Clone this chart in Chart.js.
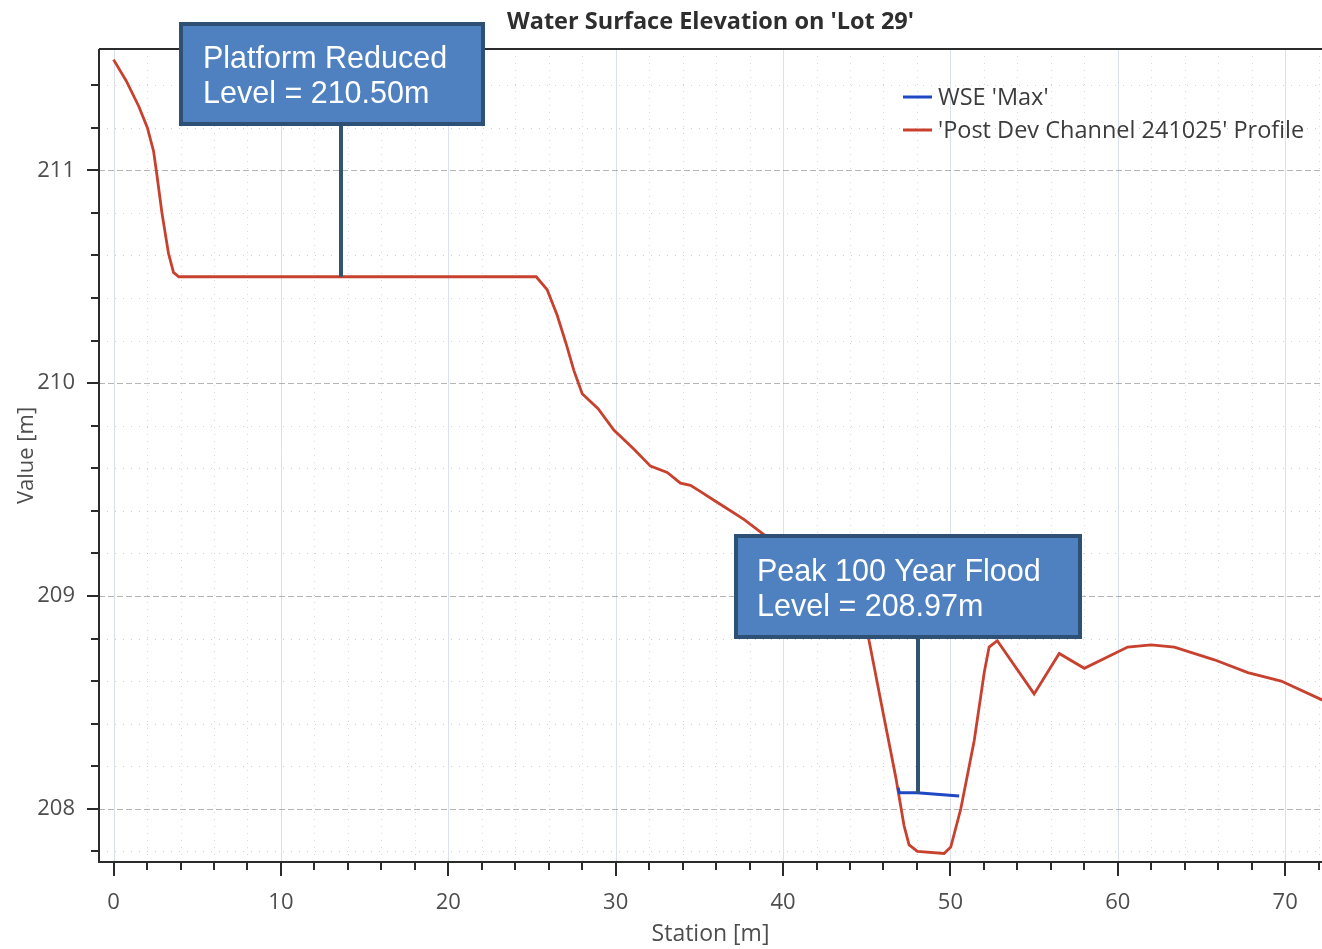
<!DOCTYPE html>
<html>
<head>
<meta charset="utf-8">
<title>Water Surface Elevation on 'Lot 29'</title>
<script src="https://cdn.jsdelivr.net/npm/chart.js@4.4.1/dist/chart.umd.min.js"></script>
<style>
  html, body { margin: 0; padding: 0; background: #ffffff; }
  #wrap { width: 1322px; height: 949px; }
</style>
</head>
<body>
<div id="wrap"><canvas id="chart" width="1322" height="949"></canvas></div>
<script>
// ---- chart text ----
const chartTitle = "Water Surface Elevation on 'Lot 29'";
const xAxisTitle = "Station [m]";
const yAxisTitle = "Value [m]";
const seriesNames = ["WSE 'Max'", "'Post Dev Channel 241025' Profile"];

// ---- ground profile along the channel (station m, elevation m) ----
const profileStation = [0.0, 0.76, 1.51, 2.02, 2.39, 2.57, 2.89, 3.28, 3.58, 3.90,
  25.25, 25.9, 26.5, 27.06, 27.5, 28.0, 28.95, 29.89, 31.08, 32.08,
  33.08, 33.87, 34.47, 35.07, 35.87, 36.67, 37.66, 38.66, 40.0, 42.0,
  44.0, 44.9, 45.14, 46.03, 46.73, 47.23, 47.53, 48.03, 49.62, 50.02,
  50.62, 51.42, 52.02, 52.31, 52.8, 55.0, 56.5, 58.0, 60.59, 61.99,
  63.38, 65.77, 67.77, 69.76, 72.25];
const profileElevation = [211.52, 211.42, 211.30, 211.20, 211.09, 210.99, 210.80, 210.61, 210.52, 210.50,
  210.50, 210.44, 210.32, 210.18, 210.06, 209.95, 209.88, 209.78, 209.69, 209.61,
  209.58, 209.53, 209.52, 209.49, 209.45, 209.41, 209.36, 209.30, 209.22, 209.12,
  209.00, 208.92, 208.79, 208.43, 208.15, 207.92, 207.83, 207.80, 207.79, 207.82,
  208.00, 208.32, 208.64, 208.76, 208.79, 208.54, 208.73, 208.66, 208.76, 208.77,
  208.76, 208.70, 208.64, 208.60, 208.51];

// ---- maximum water surface elevation in the channel ----
const wseStation = [46.87, 46.95, 48.0, 50.52];
const wseElevation = [208.10, 208.075, 208.075, 208.06];

// ---- labelled axis ticks ----
const xTickLabels = [0, 10, 20, 30, 40, 50, 60, 70];
const yTickLabels = [208, 209, 210, 211];

// ---- callout text ----
const platformLevel = 210.50;
const calloutLines = [
  ["Platform Reduced", "Level = 210.50m"],
  ["Peak 100 Year Flood", "Level = 208.97m"]
];

// ---------------------------------------------------------------
const toPoints = (xs, ys) => xs.map((v, i) => ({ x: v, y: ys[i] }));
const near = (a, b) => Math.abs(a - b) < 1e-6;
const isMajorX = v => xTickLabels.some(t => near(t, v));
const isMajorY = v => yTickLabels.some(t => near(t, v));

function valueAt(xs, ys, s) {
  for (let i = 0; i < xs.length - 1; i++) {
    if (s >= xs[i] && s <= xs[i + 1]) {
      const f = (s - xs[i]) / (xs[i + 1] - xs[i]);
      return ys[i] + f * (ys[i + 1] - ys[i]);
    }
  }
  return ys[ys.length - 1];
}

const TEXT = '#4d4d4d';
const AXIS = '#2b2b2b';
const UI_FONT = "'Open Sans', 'DejaVu Sans', sans-serif";

const callouts = [
  { lines: calloutLines[0], left: 179, top: 22, width: 306, height: 104, textX: 24, baselines: [46, 81],
    station: 13.6, tipLevel: () => platformLevel },
  { lines: calloutLines[1], left: 734, top: 534, width: 348, height: 105, textX: 23, baselines: [47, 82],
    station: 48.07, tipLevel: () => valueAt(wseStation, wseElevation, 48.07) }
];

const framePlugin = {
  id: 'profileFrame',
  beforeDatasetsDraw(chart) {
    const { ctx, chartArea: a, scales: { x, y } } = chart;
    ctx.save();
    ctx.beginPath();
    ctx.rect(a.left, a.top, a.right - a.left, a.bottom - a.top);
    ctx.clip();
    ctx.lineWidth = 1;
    x.ticks.forEach(t => {
      const px = Math.round(x.getPixelForValue(t.value)) + 0.5;
      const major = isMajorX(t.value);
      ctx.beginPath();
      ctx.setLineDash(major ? [] : [1, 6]);
      ctx.strokeStyle = major ? 'rgba(205,214,230,0.75)' : 'rgba(150,158,175,0.4)';
      ctx.moveTo(px, a.top);
      ctx.lineTo(px, a.bottom);
      ctx.stroke();
    });
    y.ticks.forEach(t => {
      const py = Math.round(y.getPixelForValue(t.value)) + 0.5;
      const major = isMajorY(t.value);
      ctx.beginPath();
      ctx.setLineDash(major ? [6, 3] : [1, 7]);
      ctx.strokeStyle = major ? 'rgba(120,120,120,0.55)' : 'rgba(140,140,140,0.4)';
      ctx.moveTo(a.left, py);
      ctx.lineTo(a.right, py);
      ctx.stroke();
    });
    ctx.restore();
  },
  afterDatasetsDraw(chart) {
    const { ctx, chartArea: a, scales: { x, y } } = chart;
    ctx.save();
    ctx.strokeStyle = AXIS;
    ctx.lineWidth = 2;
    ctx.setLineDash([]);
    // frame: left axis, bottom axis, top border
    ctx.beginPath();
    ctx.moveTo(a.left, a.top);
    ctx.lineTo(a.left, a.bottom);
    ctx.lineTo(a.right, a.bottom);
    ctx.moveTo(a.left, a.top);
    ctx.lineTo(a.right, a.top);
    ctx.stroke();
    // tick marks
    ctx.beginPath();
    x.ticks.forEach(t => {
      const px = Math.round(x.getPixelForValue(t.value));
      const len = isMajorX(t.value) ? 14 : 8;
      ctx.moveTo(px, a.bottom);
      ctx.lineTo(px, a.bottom + len);
    });
    y.ticks.forEach(t => {
      const py = Math.round(y.getPixelForValue(t.value));
      const len = isMajorY(t.value) ? 12 : 8;
      ctx.moveTo(a.left, py);
      ctx.lineTo(a.left - len, py);
    });
    ctx.stroke();
    ctx.restore();
  },
  afterDraw(chart) {
    const { ctx, scales: { x, y } } = chart;
    ctx.save();
    // legend
    ctx.font = `23.5px ${UI_FONT}`;
    ctx.textBaseline = 'middle';
    ctx.textAlign = 'left';
    chart.data.datasets.forEach((ds, i) => {
      const ly = 97 + i * 33;
      ctx.strokeStyle = ds.borderColor;
      ctx.lineWidth = 3;
      ctx.beginPath();
      ctx.moveTo(903, ly);
      ctx.lineTo(932, ly);
      ctx.stroke();
      ctx.fillStyle = '#3c3c3c';
      ctx.fillText(ds.label, 938, ly + 1);
    });
    // callouts with leader lines
    callouts.forEach(c => {
      const lx = Math.round(x.getPixelForValue(c.station));
      const ty = y.getPixelForValue(c.tipLevel());
      ctx.strokeStyle = '#2f5573';
      ctx.lineWidth = 4;
      ctx.beginPath();
      ctx.moveTo(lx, c.top + c.height);
      ctx.lineTo(lx, ty);
      ctx.stroke();
      ctx.fillStyle = '#4f80c0';
      ctx.fillRect(c.left, c.top, c.width, c.height);
      ctx.strokeStyle = '#2d5074';
      ctx.lineWidth = 4;
      ctx.strokeRect(c.left + 2, c.top + 2, c.width - 4, c.height - 4);
      ctx.fillStyle = '#ffffff';
      ctx.font = "30.5px 'Liberation Sans', Arial, sans-serif";
      ctx.textBaseline = 'alphabetic';
      c.lines.forEach((t, i) => ctx.fillText(t, c.left + c.textX, c.top + c.baselines[i]));
    });
    ctx.restore();
  }
};

new Chart(document.getElementById('chart'), {
  type: 'scatter',
  data: {
    datasets: [
      {
        label: seriesNames[0],
        data: toPoints(wseStation, wseElevation),
        showLine: true,
        borderColor: '#1f48c4',
        borderWidth: 3,
        pointRadius: 0,
        tension: 0
      },
      {
        label: seriesNames[1],
        data: toPoints(profileStation, profileElevation),
        showLine: true,
        borderColor: '#c8412f',
        borderWidth: 2.8,
        pointRadius: 0,
        tension: 0
      }
    ]
  },
  options: {
    responsive: false,
    animation: false,
    devicePixelRatio: 1,
    layout: { padding: 0 },
    plugins: {
      legend: { display: false },
      tooltip: { enabled: false },
      title: {
        display: true,
        text: chartTitle,
        fullSize: false,
        color: '#2e2e2e',
        font: { family: UI_FONT, size: 23.5, weight: 'bold', lineHeight: 1.2 },
        padding: { top: 8, bottom: 12.8 }
      }
    },
    scales: {
      x: {
        type: 'linear',
        min: -0.87,
        max: 72.2,
        afterFit: s => { s.height = 87; s.paddingLeft = 0; s.paddingRight = 0; },
        grid: { display: false, drawTicks: false },
        border: { display: false },
        ticks: {
          stepSize: 2,
          includeBounds: false,
          autoSkip: false,
          maxRotation: 0,
          padding: 28,
          color: TEXT,
          font: { family: UI_FONT, size: 22 },
          callback: v => (isMajorX(v) ? String(Math.round(v)) : '')
        },
        title: {
          display: true,
          text: xAxisTitle,
          color: TEXT,
          font: { family: UI_FONT, size: 23 },
          padding: { top: 0, bottom: 1 }
        }
      },
      y: {
        type: 'linear',
        min: 207.75,
        max: 211.57,
        afterFit: s => { s.width = 99; s.paddingTop = 0; s.paddingBottom = 0; },
        grid: { display: false, drawTicks: false },
        border: { display: false },
        ticks: {
          stepSize: 0.2,
          includeBounds: false,
          autoSkip: false,
          padding: 24,
          color: TEXT,
          font: { family: UI_FONT, size: 22 },
          callback: v => (isMajorY(v) ? String(Math.round(v)) : '')
        },
        title: {
          display: true,
          text: yAxisTitle,
          color: TEXT,
          font: { family: UI_FONT, size: 22 },
          padding: { top: 14, bottom: 0 }
        }
      }
    }
  },
  plugins: [framePlugin]
});
</script>
</body>
</html>
